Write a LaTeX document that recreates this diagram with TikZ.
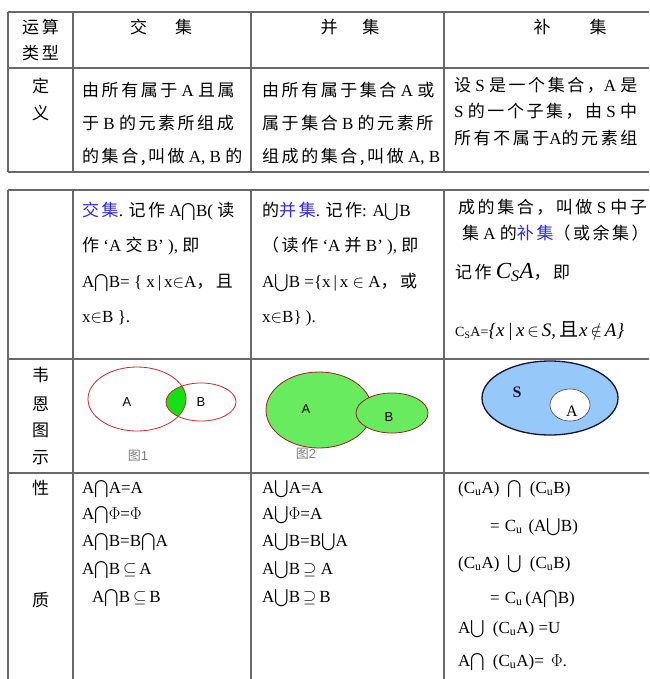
\documentclass[tikz,border=0pt]{standalone}
\usepackage{amsmath}
\usepackage{fontspec}
\setmainfont{Liberation Serif}
\setsansfont{Liberation Sans}
\newfontfamily\cjk[LetterSpace=15]{Noto Sans CJK SC}
\newcommand\zh[1]{{\cjk #1}}
\definecolor{gridgray}{RGB}{105,105,105}
\definecolor{termblue}{RGB}{45,45,215}
\definecolor{vennred}{RGB}{200,40,40}
\definecolor{lensgreen}{RGB}{20,225,20}
\definecolor{uniongreen}{RGB}{105,235,95}
\definecolor{skyfill}{RGB}{150,200,250}
\definecolor{navyline}{RGB}{20,20,50}
\newcommand\term[1]{\textcolor{termblue}{\zh{#1}}}
\newcommand\Isym{$\bigcap$}
\newcommand\Usym{$\bigcup$}
\newcommand\Cu{C\textsubscript{u}}

\begin{document}
\begin{tikzpicture}[x=1pt,y=-1pt,
    txt/.style={anchor=base west,inner sep=0pt,font=\fontsize{17}{20}\selectfont},
    side/.style={inner sep=0pt,font=\fontsize{17}{20}\selectfont},
    gridline/.style={draw=gridgray,line width=1.3pt},
    vlabel/.style={inner sep=0pt,font=\sffamily\fontsize{13}{15}\selectfont}]
  \useasboundingbox (0,0) rectangle (649,679);
  % table grid
  \foreach \y in {12,68,172,190,359,473}
    \draw[gridline] (8,\y) -- (649,\y);
  \foreach \x in {8,73,251,444}{
    \draw[gridline] (\x,12) -- (\x,172);
    \draw[gridline] (\x,190) -- (\x,679);
  }
  % left column
  \foreach \lab/\y [count=\i] in {运算/27,类型/53,定/86,义/113,韦/375,恩/404,图/430,示/458,性/488,质/600}
    \node[side] (side\i) at (40.5,\y) {\zh{\lab}};
  % header
  \node[side] (hcap) at (161,27) {\zh{交}\hspace{28pt}\zh{集}};
  \node[side] (hcup) at (350,27) {\zh{并}\hspace{25pt}\zh{集}};
  \node[side] (hcomp) at (570,27) {\zh{补}\hspace{39pt}\zh{集}};
  % definition
  \node[txt] (def1a) at (82,97) {\zh{由所有属于} A \zh{且属}};
  \node[txt] (def1b) at (82,130) {\zh{于} B \zh{的元素所组成}};
  \node[txt] (def1c) at (82,163) {\zh{的集合,叫做} A, B \zh{的}};
  \node[txt] (def2a) at (262,97) {\zh{由所有属于集合} A \zh{或}};
  \node[txt] (def2b) at (262,130) {\zh{属于集合} B \zh{的元素所}};
  \node[txt] (def2c) at (262,163) {\zh{组成的集合,叫做} A, B};
  \node[txt] (def3a) at (454,92) {\zh{设} S \zh{是一个集合，}A \zh{是}};
  \node[txt] (def3b) at (454,118) {S \zh{的一个子集，由} S \zh{中}};
  \node[txt] (def3c) at (454,145) {\zh{所有不属于}A\zh{的元素组}};
  % notation
  \node[txt] (rd1a) at (82,216) {\term{交集}. \zh{记作} A\Isym B( \zh{读}};
  \node[txt] (rd1b) at (82,251) {\zh{作} ‘A \zh{交} B’ ), \zh{即}};
  \node[txt] (rd1c) at (82,287) {A\Isym B= \{ x\,|\,x$\in$A\zh{，且}};
  \node[txt] (rd1d) at (82,322) {x$\in$B \}.};
  \node[txt] (rd2a) at (262,216) {\zh{的}\term{并集}. \zh{记作}: A\Usym B};
  \node[txt] (rd2b) at (262,251) {\zh{（读作} ‘A \zh{并} B’ ), \zh{即}};
  \node[txt] (rd2c) at (262,287) {A\Usym B =\{x\,|\,x $\in$ A\zh{，或}};
  \node[txt] (rd2d) at (262,322) {x$\in$B\} ).};
  \node[txt] (rd3a) at (458,213) {\zh{成的集合，叫做} S \zh{中子}};
  \node[txt] (rd3b) at (462,239) {\zh{集} A \zh{的}\term{补集}\zh{（或余集）}};
  \node[txt] (rd3c) at (455,278) {\zh{记作}\hspace{4pt}{\fontsize{23}{25}\selectfont\itshape C\textsubscript{S}A}\zh{，即}};
  \node[txt] (rd3d) at (455,336) {{\fontsize{14}{16}\selectfont C\textsubscript{S}A=}{\fontsize{19}{21}\selectfont\itshape\{x\,|\,x$\,\in\,$S,\,\zh{且}\hspace{1pt}x$\,\notin\,$A\}}};
  % venn: intersection
  \begin{scope}
    \clip (137,399) ellipse [x radius=49pt,y radius=32pt];
    \fill[lensgreen] (201,402) ellipse [x radius=35pt,y radius=19pt];
  \end{scope}
  \draw[vennred,line width=0.8pt] (137,399) ellipse [x radius=49pt,y radius=32pt];
  \draw[vennred,line width=0.8pt] (201,402) ellipse [x radius=35pt,y radius=19pt];
  \node[vlabel] (capA) at (127,402) {A};
  \node[vlabel] (capB) at (201,402) {B};
  \node[vlabel,text=gray] (fig1) at (138,456) {\zh{图}1};
  % venn: union
  \filldraw[fill=uniongreen,draw=vennred!80!black,line width=0.8pt] (319,410) ellipse [x radius=53pt,y radius=38pt];
  \filldraw[fill=uniongreen,draw=vennred!80!black,line width=0.8pt] (392,413) ellipse [x radius=36pt,y radius=20pt];
  \node[vlabel] (cupA) at (306,409) {A};
  \node[vlabel] (cupB) at (389,417) {B};
  \node[vlabel,text=gray] (fig2) at (306,454) {\zh{图}2};
  % venn: complement
  \filldraw[fill=skyfill,draw=navyline,line width=1.3pt] (550,398) ellipse [x radius=68pt,y radius=37pt];
  \filldraw[fill=white,draw=navyline!80,line width=0.6pt] (570,405) ellipse [x radius=20pt,y radius=16pt];
  \node[inner sep=0pt,font=\bfseries\fontsize{16}{18}\selectfont,text=navyline] (compS) at (517,392) {S};
  \node[inner sep=0pt,font=\fontsize{16}{18}\selectfont] (compA) at (572,411) {A};
  % properties
  \foreach \t/\y [count=\i] in {A\Isym A=A/493,A\Isym$\Phi$=$\Phi$/519,A\Isym B=B\Isym A/546,A\Isym B$\,\subseteq\,$A/574,\hspace{10pt}A\Isym B$\,\subseteq\,$B/602}
    \node[txt] (pcap\i) at (82,\y) {\t};
  \foreach \t/\y [count=\i] in {A\Usym A=A/493,A\Usym$\Phi$=A/519,A\Usym B=B\Usym A/546,A\Usym B$\,\supseteq$ A/574,A\Usym B$\,\supseteq\,$B/602}
    \node[txt] (pcup\i) at (262,\y) {\t};
  \node[txt] (pc1) at (458,493) {(\Cu A)\hspace{8pt}\Isym\hspace{8pt}(\Cu B)};
  \node[txt] (pc2) at (490,531) {=\hspace{5pt}\Cu\hspace{6pt}(A\Usym B)};
  \node[txt] (pc3) at (458,568) {(\Cu A)\hspace{8pt}\Usym\hspace{8pt}(\Cu B)};
  \node[txt] (pc4) at (490,603) {=\hspace{5pt}\Cu\,(A\Isym B)};
  \node[txt] (pc5) at (458,633) {A\Usym\hspace{8pt}(\Cu A) =U};
  \node[txt] (pc6) at (458,666) {A\Isym\hspace{8pt}(\Cu A)= \hspace{3pt}$\Phi$.};
\end{tikzpicture}
\end{document}
